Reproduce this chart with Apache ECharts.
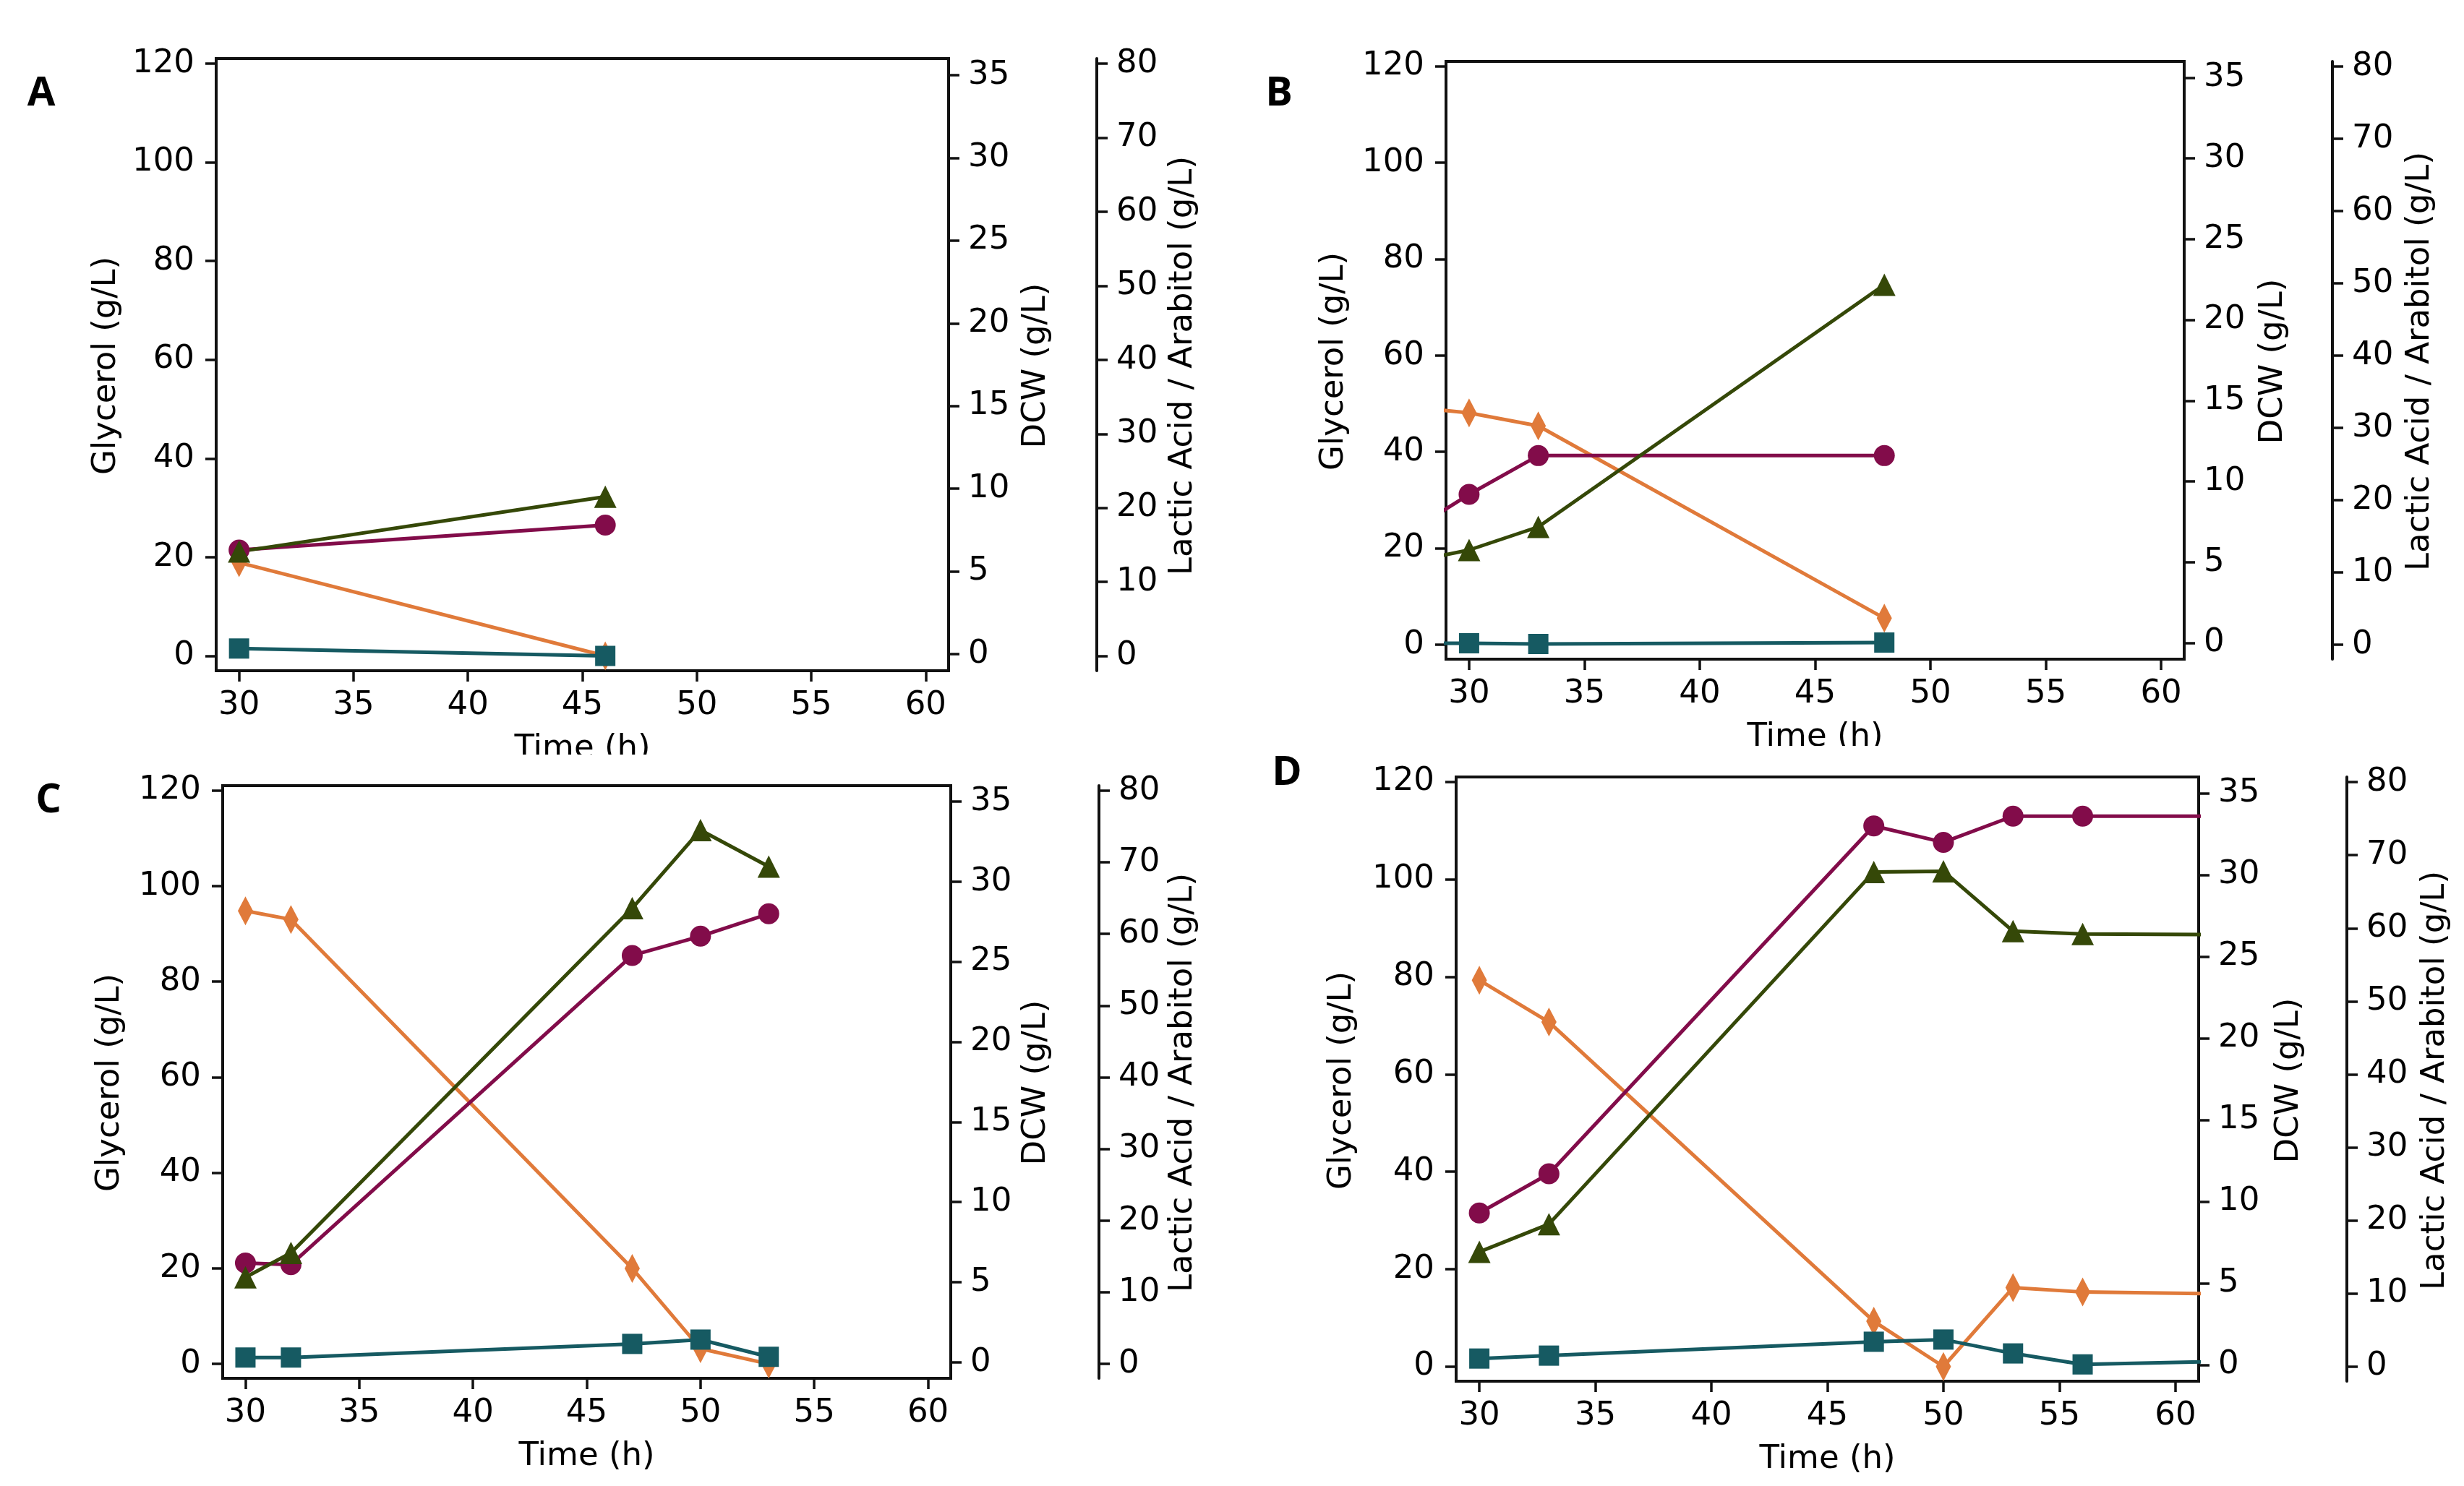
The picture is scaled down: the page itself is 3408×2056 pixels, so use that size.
<!DOCTYPE html>
<html>
<head>
<meta charset="utf-8">
<script src="https://cdn.jsdelivr.net/npm/echarts@6/dist/echarts.min.js"></script>
<style>
html, body { margin: 0; padding: 0; background: #fff; }
#chart { width: 3408px; height: 2056px; }
</style>
</head>
<body>
<div id="chart"></div>
<script>
// ticks
var timeTicks = [30, 35, 40, 45, 50, 55, 60];
var glycerolTicks = [0, 20, 40, 60, 80, 100, 120];
var dcwTicks = [0, 5, 10, 15, 20, 25, 30, 35];
var lacticTicks = [0, 10, 20, 30, 40, 50, 60, 70, 80];

// panel A
var timeA = [30, 46];
var glycerolA = [18.9, 0];
var dcwA = [6.3, 7.8];
var lacticA = [14.1, 21.5];
var arabitolA = [1.0, 0.0];

// panel B (first sample lies left of the shown window)
var timeB = [24, 30, 33, 48];
var glycerolB = [51.0, 48.1, 45.4, 5.5];
var dcwB = [3.8, 9.2, 11.6, 11.6];
var lacticB = [9.3, 13.1, 16.3, 49.8];
var arabitolB = [0.2, 0.2, 0.1, 0.3];

// panel C
var timeC = [30, 32, 47, 50, 53];
var glycerolC = [94.8, 93.0, 20.0, 3.2, 0];
var dcwC = [6.2, 6.1, 25.4, 26.6, 28.0];
var lacticC = [12.1, 15.5, 63.6, 74.5, 69.4];
var arabitolC = [0.9, 0.9, 2.8, 3.4, 1.0];

// panel D (last sample lies right of the shown window)
var timeD = [30, 33, 47, 50, 53, 56, 72];
var glycerolD = [79.3, 70.7, 9.3, 0, 16.2, 15.3, 14.3];
var dcwD = [9.3, 11.7, 33.0, 32.0, 33.6, 33.6, 33.6];
var lacticD = [15.7, 19.5, 67.7, 67.8, 59.6, 59.2, 59.0];
var arabitolD = [1.1, 1.5, 3.4, 3.7, 1.8, 0.3, 1.4];

var FONT = 'DejaVu Sans';
var FS = 45;

var panels = [
    { letter: 'A', time: timeA, gly: glycerolA, dcw: dcwA, lac: lacticA, ara: arabitolA,
      grid: { left: 299, top: 81, width: 1013, height: 847 }, letterPos: [57, 130],
      glyX: 147, dcwX: 1433, lacX: 1636, titleY: 506, cutY: 1044 },
    { letter: 'B', time: timeB, gly: glycerolB, dcw: dcwB, lac: lacticB, ara: arabitolB,
      grid: { left: 2000, top: 85, width: 1021, height: 827 }, letterPos: [1769, 130],
      glyX: 1845, dcwX: 3144, lacX: 3347, titleY: 500, cutY: 1032 },
    { letter: 'C', time: timeC, gly: glycerolC, dcw: dcwC, lac: lacticC, ara: arabitolC,
      grid: { left: 308, top: 1087, width: 1007, height: 820 }, letterPos: [67, 1108],
      glyX: 152, dcwX: 1433, lacX: 1636, titleY: 1498, cutY: null },
    { letter: 'D', time: timeD, gly: glycerolD, dcw: dcwD, lac: lacticD, ara: arabitolD,
      grid: { left: 2014, top: 1075, width: 1027, height: 836 }, letterPos: [1780, 1070],
      glyX: 1856, dcwX: 3166, lacX: 3368, titleY: 1495, cutY: null }
];

function pairs(xs, ys) {
    var out = [];
    for (var i = 0; i < xs.length; i++) {
        out.push([xs[i], ys[i]]);
    }
    return out;
}

function axisLine() {
    return { show: true, onZero: false, lineStyle: { color: '#111', width: 4 } };
}

function ticks(values) {
    return { show: true, length: 15, customValues: values, lineStyle: { color: '#111', width: 3.5 } };
}

function labels(values, margin) {
    return { show: true, customValues: values, margin: margin, color: '#000', fontSize: FS, fontFamily: FONT };
}

var grids = [], xAxes = [], yAxes = [], series = [], graphics = [];

panels.forEach(function (p, i) {
    grids.push({
        left: p.grid.left, top: p.grid.top, width: p.grid.width, height: p.grid.height,
        show: true, borderColor: '#111', borderWidth: 4, backgroundColor: 'transparent'
    });

    xAxes.push({
        type: 'value', gridIndex: i, min: 29, max: 61,
        name: 'Time (h)', nameLocation: 'middle', nameGap: 86,
        nameTextStyle: { color: '#000', fontSize: FS, fontFamily: FONT },
        axisLine: axisLine(), axisTick: ticks(timeTicks), axisLabel: labels(timeTicks, 26),
        splitLine: { show: false }
    });

    // glycerol, DCW, lactic acid / arabitol
    yAxes.push({
        type: 'value', gridIndex: i, position: 'left', min: -3, max: 121,
        axisLine: axisLine(), axisTick: ticks(glycerolTicks), axisLabel: labels(glycerolTicks, 30),
        splitLine: { show: false }
    });
    yAxes.push({
        type: 'value', gridIndex: i, position: 'right', min: -1, max: 36,
        axisLine: axisLine(), axisTick: ticks(dcwTicks), axisLabel: labels(dcwTicks, 27),
        splitLine: { show: false }
    });
    yAxes.push({
        type: 'value', gridIndex: i, position: 'right', offset: 205, min: -2, max: 80.7,
        axisLine: axisLine(), axisTick: ticks(lacticTicks), axisLabel: labels(lacticTicks, 27),
        splitLine: { show: false }
    });

    var base = i * 3;
    var common = { type: 'line', xAxisIndex: i, clip: true, showSymbol: true, animation: false };

    series.push(Object.assign({}, common, {
        name: 'Glycerol ' + p.letter, yAxisIndex: base, data: pairs(p.time, p.gly),
        symbol: 'diamond', symbolSize: [21, 40],
        lineStyle: { color: '#e07a3a', width: 5 }, itemStyle: { color: '#e07a3a' }
    }));
    series.push(Object.assign({}, common, {
        name: 'DCW ' + p.letter, yAxisIndex: base + 1, data: pairs(p.time, p.dcw),
        symbol: 'circle', symbolSize: 29,
        lineStyle: { color: '#820c4a', width: 5 }, itemStyle: { color: '#820c4a' }
    }));
    series.push(Object.assign({}, common, {
        name: 'Lactic acid ' + p.letter, yAxisIndex: base + 2, data: pairs(p.time, p.lac),
        symbol: 'triangle', symbolSize: 31,
        lineStyle: { color: '#354808', width: 5 }, itemStyle: { color: '#354808' }
    }));
    series.push(Object.assign({}, common, {
        name: 'Arabitol ' + p.letter, yAxisIndex: base + 2, data: pairs(p.time, p.ara),
        symbol: 'rect', symbolSize: 28,
        lineStyle: { color: '#165a62', width: 5 }, itemStyle: { color: '#165a62' }
    }));

    // panel letter
    graphics.push({
        type: 'text', x: p.letterPos[0], y: p.letterPos[1],
        style: { text: p.letter, fill: '#000', font: 'bold 56px "Open Sans"', align: 'center', verticalAlign: 'middle' }
    });
    // axis titles
    [[p.glyX, 'Glycerol (g/L)'], [p.dcwX, 'DCW (g/L)'], [p.lacX, 'Lactic Acid / Arabitol (g/L)']].forEach(function (t) {
        graphics.push({
            type: 'text', x: t[0], y: p.titleY, rotation: Math.PI / 2,
            style: { text: t[1], fill: '#000', font: FS + 'px "' + FONT + '"', align: 'center', verticalAlign: 'middle' }
        });
    });
    // the upper panels were cut off just below their x titles
    if (p.cutY) {
        graphics.push({
            type: 'rect', z: 100,
            shape: { x: p.grid.left, y: p.cutY, width: p.grid.width, height: 28 },
            style: { fill: '#fff' }
        });
    }
});

var chart = echarts.init(document.getElementById('chart'));
chart.setOption({
    backgroundColor: '#fff',
    animation: false,
    grid: grids,
    xAxis: xAxes,
    yAxis: yAxes,
    series: series,
    graphic: { elements: graphics }
});
</script>
</body>
</html>
